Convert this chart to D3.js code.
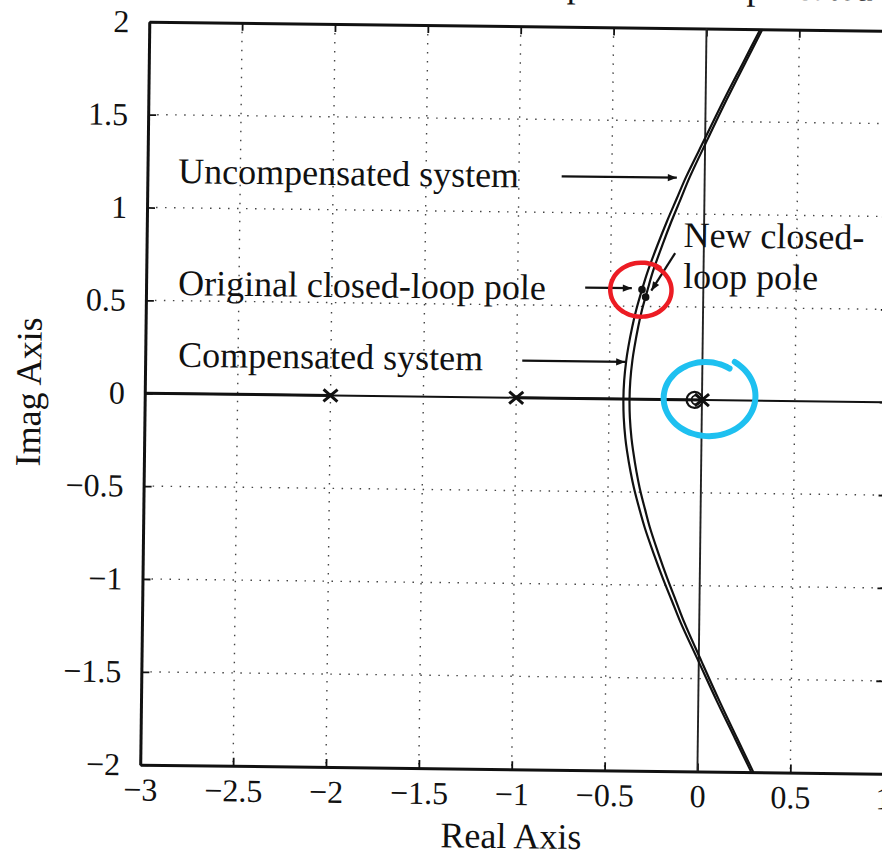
<!DOCTYPE html>
<html lang="en">
<head>
    <meta charset="UTF-8">
    <title>Root locus</title>
    <script src="https://cdn.jsdelivr.net/npm/d3@7/dist/d3.min.js"></script>
    <style>
        body { margin: 0; background: #fff; }
        text { font-family: "Liberation Serif", "Times New Roman", serif; fill: #111; }
        .grid line { stroke: #444; stroke-width: 1.4; stroke-dasharray: 1.5 7.5; }
        .locus { fill: none; stroke: #111; stroke-width: 2.2; }
    </style>
</head>
<body>
    <svg width=882 height=857></svg>
    <script>
        var xTickValues = [-3, -2.5, -2, -1.5, -1, -0.5, 0, 0.5, 1],
            xTickLabels = ['\u22123', '\u22122.5', '\u22122', '\u22121.5', '\u22121', '\u22120.5', '0', '0.5', '1'],
            yTickValues = [-2, -1.5, -1, -0.5, 0, 0.5, 1, 1.5, 2],
            yTickLabels = ['\u22122', '\u22121.5', '\u22121', '\u22120.5', '0', '0.5', '1', '1.5', '2'];

        // poles / zero
        var openLoopPoles = [-2, -1, 0],
            compensatorZero = -0.04,
            realAxisLocus = [[-3, -2], [-1, 0]];

        // complex branches, [real, imag], top to bottom
        var uncompensated = [
            [0.29, 2.0], [0.2, 1.82], [0.1, 1.62], [0.0, 1.41], [-0.1, 1.2], [-0.15, 1.08],
            [-0.2, 0.96], [-0.25, 0.83], [-0.3, 0.69], [-0.33, 0.59], [-0.36, 0.48], [-0.38, 0.39],
            [-0.40, 0.28], [-0.41, 0.21], [-0.42, 0.1], [-0.423, 0],
            [-0.42, -0.1], [-0.41, -0.21], [-0.40, -0.28], [-0.38, -0.39], [-0.36, -0.48],
            [-0.33, -0.59], [-0.3, -0.69], [-0.25, -0.83], [-0.2, -0.96], [-0.15, -1.08],
            [-0.1, -1.2], [0.0, -1.41], [0.1, -1.62], [0.2, -1.82], [0.29, -2.0]
        ];
        var compensated = [
            [0.301, 2.0], [0.212, 1.82], [0.114, 1.62], [0.016, 1.41], [-0.08, 1.2], [-0.128, 1.08],
            [-0.176, 0.96], [-0.224, 0.83], [-0.272, 0.69], [-0.30, 0.59], [-0.329, 0.48], [-0.348, 0.39],
            [-0.367, 0.28], [-0.377, 0.21], [-0.387, 0.1], [-0.39, 0],
            [-0.387, -0.1], [-0.377, -0.21], [-0.367, -0.28], [-0.348, -0.39], [-0.329, -0.48],
            [-0.30, -0.59], [-0.272, -0.69], [-0.224, -0.83], [-0.176, -0.96], [-0.128, -1.08],
            [-0.08, -1.2], [0.016, -1.41], [0.114, -1.62], [0.212, -1.82], [0.301, -2.0]
        ];
        var originalPole = [-0.33, 0.59],
            newPole = [-0.31, 0.55];

        var svg = d3.select('svg'),
            size = 743,
            x = d3.scaleLinear().domain([-3, 1]).range([0, size]),
            y = d3.scaleLinear().domain([-2, 2]).range([size, 0]);

        var defs = svg.append('defs');
        defs.append('clipPath').attr('id', 'plot')
            .append('rect').attr('width', size).attr('height', size);
        defs.append('marker')
            .attr('id', 'arrow')
            .attr('viewBox', '0 0 10 10')
            .attr('refX', 10).attr('refY', 5)
            .attr('markerWidth', 17).attr('markerHeight', 9)
            .attr('markerUnits', 'userSpaceOnUse')
            .attr('orient', 'auto')
            .append('path').attr('d', 'M0,1L10,5L0,9Z').attr('fill', '#111');

        // the scan is slightly tilted
        var g = svg.append('g').attr('transform', 'translate(149.3,21.7) rotate(0.7)');

        // title, mostly cut off by the top edge
        g.append('text')
            .attr('x', 250).attr('y', -30)
            .attr('font-size', 36)
            .text('Root-locus plots of compensated and uncompensated systems');

        // grid
        g.append('g').classed('grid', true).selectAll('line')
            .data(xTickValues.filter(function(d) { return d > -3 && d < 1 && d !== 0; }))
            .join('line')
            .attr('x1', function(d) { return x(d); }).attr('x2', function(d) { return x(d); })
            .attr('y1', 0).attr('y2', size);
        g.append('g').classed('grid', true).selectAll('line')
            .data(yTickValues.filter(function(d) { return d > -2 && d < 2 && d !== 0; }))
            .join('line')
            .attr('y1', function(d) { return y(d); }).attr('y2', function(d) { return y(d); })
            .attr('x1', 0).attr('x2', size);

        // axes
        function styleAxis(sel) {
            sel.attr('font-family', null).attr('font-size', null);
            sel.select('.domain').attr('stroke', '#111').attr('stroke-width', 3);
            sel.selectAll('.tick line').attr('stroke', '#111').attr('stroke-width', 1.8);
            sel.selectAll('.tick text').attr('font-size', 32).attr('fill', '#111');
        }
        g.append('g')
            .attr('transform', 'translate(' + [0, size] + ')')
            .call(d3.axisBottom(x).tickValues(xTickValues)
                .tickFormat(function(d, i) { return xTickLabels[i]; })
                .tickSize(-8).tickSizeOuter(0).tickPadding(13))
            .call(styleAxis);
        g.append('g')
            .call(d3.axisLeft(y).tickValues(yTickValues)
                .tickFormat(function(d, i) { return yTickLabels[i]; })
                .tickSize(-8).tickSizeOuter(0).tickPadding(20))
            .call(styleAxis);
        g.append('g')
            .call(d3.axisTop(x).tickValues(xTickValues).tickFormat('')
                .tickSize(-8).tickSizeOuter(0))
            .call(styleAxis);
        g.append('g')
            .attr('transform', 'translate(' + [size, 0] + ')')
            .call(d3.axisRight(y).tickValues(yTickValues).tickFormat('')
                .tickSize(-8).tickSizeOuter(0))
            .call(styleAxis);

        // real and imaginary axis lines
        g.append('line')
            .attr('x1', 0).attr('x2', size).attr('y1', y(0)).attr('y2', y(0))
            .attr('stroke', '#111').attr('stroke-width', 2);
        g.append('line')
            .attr('x1', x(0)).attr('x2', x(0)).attr('y1', 0).attr('y2', size)
            .attr('stroke', '#222').attr('stroke-width', 1.9);

        var plot = g.append('g').attr('clip-path', 'url(#plot)');

        plot.selectAll('.real-seg')
            .data(realAxisLocus)
            .join('line')
            .attr('x1', function(d) { return x(d[0]); })
            .attr('x2', function(d) { return x(d[1]); })
            .attr('y1', y(0)).attr('y2', y(0))
            .attr('stroke', '#111').attr('stroke-width', 3);

        var lineG = d3.line()
            .x(function(d) { return x(d[0]); })
            .y(function(d) { return y(d[1]); })
            .curve(d3.curveCatmullRom);

        plot.append('path').classed('locus', true).datum(uncompensated).attr('d', lineG);
        plot.append('path').classed('locus', true).datum(compensated).attr('d', lineG);

        // pole and zero markers
        plot.selectAll('.pole')
            .data(openLoopPoles)
            .join('path')
            .attr('transform', function(d) { return 'translate(' + [x(d), y(0)] + ')'; })
            .attr('d', 'M-7,-6L7,6M-7,6L7,-6')
            .attr('stroke', '#111').attr('stroke-width', 3);
        plot.append('circle')
            .attr('cx', x(compensatorZero)).attr('cy', y(0)).attr('r', 8)
            .attr('fill', 'none').attr('stroke', '#111').attr('stroke-width', 2.2);
        plot.append('circle')
            .attr('cx', x(compensatorZero) + 1.5).attr('cy', y(0)).attr('r', 4.5)
            .attr('fill', 'none').attr('stroke', '#111').attr('stroke-width', 1.8);

        plot.selectAll('.cl-pole')
            .data([originalPole, newPole])
            .join('circle')
            .attr('cx', function(d) { return x(d[0]); })
            .attr('cy', function(d) { return y(d[1]); })
            .attr('r', 3.8).attr('fill', '#111');

        // annotations
        function note(txt, re, im) {
            g.append('text').attr('x', x(re)).attr('y', y(im)).attr('font-size', 36).text(txt);
        }
        function arrow(re0, im0, re1, im1) {
            g.append('line')
                .attr('x1', x(re0)).attr('y1', y(im0))
                .attr('x2', x(re1)).attr('y2', y(im1))
                .attr('stroke', '#111').attr('stroke-width', 2.2)
                .attr('marker-end', 'url(#arrow)');
        }
        note('Uncompensated system', -2.835, 1.133);
        arrow(-0.77, 1.195, -0.15, 1.195);
        note('Original closed-loop pole', -2.828, 0.53);
        arrow(-0.636, 0.597, -0.385, 0.597);
        note('Compensated system', -2.823, 0.145);
        arrow(-0.97, 0.2, -0.416, 0.2);
        note('New closed-', -0.11, 0.822);
        note('loop pole', -0.11, 0.601);
        arrow(-0.154, 0.789, -0.28, 0.585);

        // axis titles
        g.append('text')
            .attr('x', x(-1)).attr('y', size + 79)
            .attr('text-anchor', 'middle').attr('font-size', 36)
            .text('Real Axis');
        g.append('text')
            .attr('transform', 'translate(' + [-104, y(0)] + ') rotate(-90)')
            .attr('text-anchor', 'middle').attr('font-size', 36)
            .text('Imag Axis');

        // hand-drawn rings
        function ring(re, im, rx, ry, a0, a1, k0, k1) {
            var cx = x(re), cy = y(im);
            var pts = d3.range(0, 1.001, 0.02).map(function(t) {
                var a = (a0 + (a1 - a0) * t) * Math.PI / 180,
                    k = k0 + (k1 - k0) * t;
                return [cx + rx * k * Math.cos(a), cy + ry * k * Math.sin(a)];
            });
            return d3.line().curve(d3.curveBasis)(pts);
        }
        g.append('path')
            .attr('d', ring(-0.334, 0.588, 31, 27, -55, -420, 1.02, 0.97))
            .attr('fill', 'none').attr('stroke', '#ec1c24').attr('stroke-width', 4.5)
            .attr('stroke-linecap', 'round');
        g.append('path')
            .attr('d', ring(0.028, 0.016, 47, 40, -57, -417, 0.86, 1.06))
            .attr('fill', 'none').attr('stroke', '#1ec0f0').attr('stroke-width', 6)
            .attr('stroke-linecap', 'round');
    </script>
</body>
</html>
